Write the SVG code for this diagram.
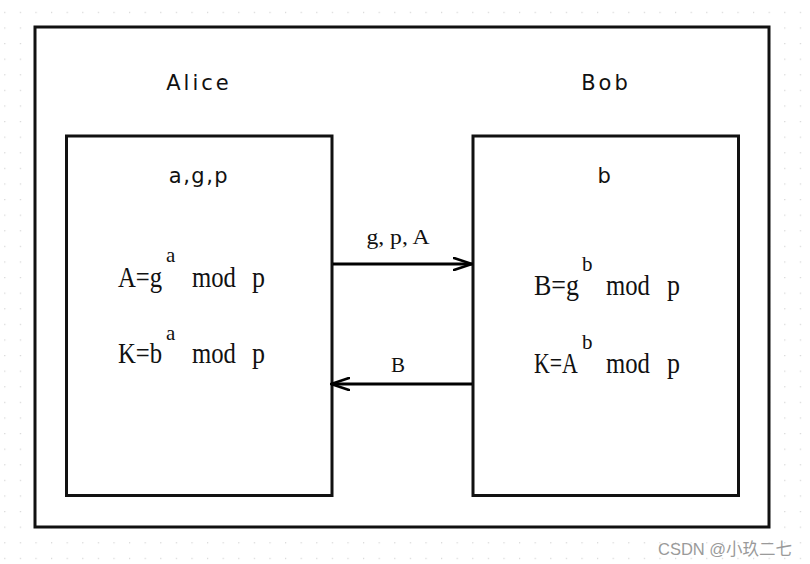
<svg xmlns="http://www.w3.org/2000/svg" width="810" height="564" viewBox="0 0 810 564">
  <defs>
    <pattern id="dots" x="4.2" y="11.8" width="15.6" height="15.6" patternUnits="userSpaceOnUse">
      <rect x="0" y="0" width="1.2" height="1.2" fill="#d4d4d4"/>
    </pattern>
    <marker id="arr" viewBox="0 0 20 14" refX="19" refY="7" markerWidth="20" markerHeight="14" markerUnits="userSpaceOnUse" orient="auto">
      <path d="M1,1 L19,7 L1,13" fill="none" stroke="#000" stroke-width="2.6" stroke-linecap="round" stroke-linejoin="miter"/>
    </marker>
    <style>
      .box { fill: #fff; stroke: #111; stroke-width: 3; }
      .title { font-family: "DejaVu Sans", "Liberation Sans", sans-serif; font-size: 21px; letter-spacing: 3px; fill: #111; text-anchor: middle; }
      .vars { font-family: "DejaVu Sans", "Liberation Sans", sans-serif; font-size: 21px; letter-spacing: 1.5px; fill: #111; text-anchor: middle; }
      .math { font-family: "Liberation Serif", serif; font-size: 26px; fill: #111; }
      .sup { font-family: "Liberation Serif", serif; font-size: 21px; fill: #111; }
      .lbl { font-family: "Liberation Serif", serif; font-size: 21px; fill: #111; text-anchor: middle; }
      .conn { stroke: #000; stroke-width: 3; fill: none; }
      .wm { font-family: "Liberation Sans", "Noto Sans CJK SC", sans-serif; font-size: 16.5px; fill: #9a9a9a; }
    </style>
  </defs>
  <rect width="810" height="564" fill="#fff"/>
  <rect width="810" height="564" fill="url(#dots)"/>

  <g id="frame">
    <rect class="box" x="35" y="27" width="734" height="500"/>
    <text class="title" x="199" y="90">Alice</text>
    <text class="title" x="606" y="90">Bob</text>
  </g>

  <g id="alice">
    <rect class="box" x="66.5" y="136" width="265.5" height="359.5"/>
    <text class="vars" x="199" y="183">a,g,p</text>
    <text class="math" transform="translate(118,287) scale(0.95,1.12)">A=g</text>
    <text class="sup" x="166" y="262">a</text>
    <text class="math" transform="translate(192,287) scale(0.95,1.12)">mod</text>
    <text class="math" transform="translate(252,287) scale(1,1.12)">p</text>
    <text class="math" transform="translate(118,363) scale(0.95,1.12)">K=b</text>
    <text class="sup" x="166" y="340">a</text>
    <text class="math" transform="translate(192,363) scale(0.95,1.12)">mod</text>
    <text class="math" transform="translate(252,363) scale(1,1.12)">p</text>
  </g>

  <g id="bob">
    <rect class="box" x="473" y="136" width="265.5" height="359.5"/>
    <text class="vars" x="605" y="183">b</text>
    <text class="math" transform="translate(534,295) scale(1,1.12)">B=g</text>
    <text class="sup" x="582" y="271">b</text>
    <text class="math" transform="translate(606,295) scale(0.95,1.12)">mod</text>
    <text class="math" transform="translate(667,295) scale(1,1.12)">p</text>
    <text class="math" transform="translate(534,373) scale(0.84,1.12)">K=A</text>
    <text class="sup" x="582" y="349">b</text>
    <text class="math" transform="translate(606,373) scale(0.95,1.12)">mod</text>
    <text class="math" transform="translate(667,373) scale(1,1.12)">p</text>
  </g>

  <g id="connectors">
    <line class="conn" x1="333" y1="264" x2="472" y2="264" marker-end="url(#arr)"/>
    <text class="lbl" x="398" y="244" textLength="63" lengthAdjust="spacingAndGlyphs">g, p, A</text>
    <line class="conn" x1="472" y1="384" x2="331" y2="384" marker-end="url(#arr)"/>
    <text class="lbl" x="398" y="372">B</text>
  </g>

  <text class="wm" x="658" y="555">CSDN @小玖二七</text>
</svg>
